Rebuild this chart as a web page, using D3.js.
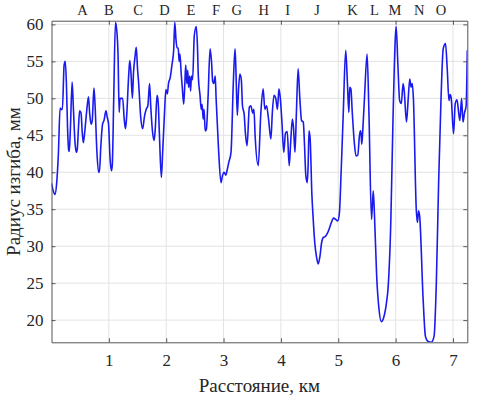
<!DOCTYPE html>
<html>
<head>
<meta charset="utf-8">
<script src="https://cdn.jsdelivr.net/npm/d3@7"></script>
<style>
    body { margin: 0; background: #fff; }
    svg text { font-family: "Liberation Serif", "Times New Roman", serif; fill: #262626; }
</style>
</head>
<body>
<div id="chart"></div>
<script>
// distance along route, km
const distanceKm = [
    0.00, 0.03, 0.06, 0.09, 0.12, 0.15, 0.17, 0.19, 0.22, 0.24, 0.26, 0.28, 0.30, 0.31, 0.33, 0.36,
    0.38, 0.41, 0.435, 0.45, 0.47, 0.49, 0.515, 0.535, 0.555, 0.58, 0.61, 0.645, 0.665, 0.69, 0.71, 0.74,
    0.76, 0.79, 0.82, 0.835, 0.86, 0.89, 0.915, 0.95, 0.97, 0.995, 1.02, 1.045, 1.06, 1.085, 1.115, 1.14,
    1.16, 1.18, 1.195, 1.24, 1.27, 1.29, 1.31, 1.345, 1.365, 1.385, 1.41, 1.43, 1.455, 1.478, 1.50, 1.52,
    1.535, 1.555, 1.59, 1.62, 1.65, 1.68, 1.71, 1.73, 1.76, 1.79, 1.81, 1.84, 1.86, 1.88, 1.915, 1.94,
    1.97, 1.995, 2.02, 2.04, 2.07, 2.10, 2.13, 2.15, 2.17, 2.19, 2.21, 2.225, 2.24, 2.26, 2.28, 2.305,
    2.325, 2.34, 2.36, 2.375, 2.39, 2.41, 2.425, 2.44, 2.46, 2.49, 2.525, 2.545, 2.56, 2.59, 2.61, 2.625,
    2.645, 2.66, 2.68, 2.70, 2.73, 2.765, 2.79, 2.81, 2.83, 2.855, 2.87, 2.91, 2.955, 2.98, 3.01, 3.04,
    3.06, 3.09, 3.13, 3.17, 3.20, 3.215, 3.24, 3.26, 3.285, 3.31, 3.33, 3.36, 3.38, 3.41, 3.45, 3.475,
    3.51, 3.53, 3.55, 3.605, 3.65, 3.69, 3.72, 3.75, 3.78, 3.826, 3.85, 3.88, 3.91, 3.94, 3.965, 3.99,
    4.02, 4.05, 4.08, 4.11, 4.145, 4.17, 4.20, 4.22, 4.245, 4.27, 4.30, 4.33, 4.36, 4.39, 4.41, 4.435,
    4.46, 4.475, 4.49, 4.51, 4.54, 4.56, 4.59, 4.62, 4.65, 4.68, 4.71, 4.74, 4.77, 4.80, 4.84, 4.87,
    4.92, 4.96, 4.99, 5.02, 5.05, 5.086, 5.13, 5.16, 5.185, 5.20, 5.22, 5.245, 5.28, 5.31, 5.34, 5.37,
    5.387, 5.40, 5.41, 5.43, 5.46, 5.503, 5.535, 5.58, 5.61, 5.63, 5.67, 5.71, 5.75, 5.79, 5.84, 5.87,
    5.916, 5.956, 5.997, 6.01, 6.04, 6.07, 6.10, 6.13, 6.15, 6.19, 6.22, 6.247, 6.27, 6.29, 6.31, 6.36,
    6.38, 6.40, 6.42, 6.48, 6.52, 6.566, 6.62, 6.67, 6.71, 6.75, 6.79, 6.83, 6.87, 6.90, 6.93, 6.95,
    6.97, 7.01, 7.04, 7.07, 7.10, 7.12, 7.15, 7.175, 7.20, 7.23, 7.25
];

// bend radius, mm
const radiusMm = [
    38.5, 37.5, 37.0, 38.5, 42.5, 48.7, 48.5, 48.5, 54.5, 55.0, 52.0, 46.0, 43.0, 42.8, 46.0, 52.2,
    49.0, 44.0, 42.7, 43.2, 46.0, 48.3, 48.0, 45.5, 44.0, 45.5, 48.0, 50.2, 48.0, 46.5, 47.0, 51.4,
    49.0, 43.0, 40.0, 40.0, 43.5, 46.5, 47.0, 48.3, 47.5, 46.5, 42.0, 40.2, 41.0, 50.0, 60.3, 59.0,
    56.0, 48.1, 50.0, 50.0, 47.0, 45.9, 47.5, 53.0, 55.1, 53.5, 50.0, 53.5, 55.5, 56.9, 54.0, 52.0,
    50.0, 47.5, 45.9, 47.5, 48.5, 49.0, 52.0, 49.0, 45.6, 44.3, 46.0, 50.4, 49.5, 45.5, 39.3, 43.0,
    48.0, 51.2, 50.6, 52.0, 52.8, 54.5, 56.5, 60.3, 58.0, 56.8, 56.8, 55.0, 56.0, 53.5, 51.5, 49.2,
    52.0, 54.5, 52.0, 53.8, 51.5, 53.0, 51.0, 53.0, 52.5, 58.5, 59.7, 57.0, 53.0, 50.4, 48.5, 49.2,
    47.2, 48.5, 45.6, 45.8, 50.2, 56.7, 55.0, 52.3, 52.0, 53.0, 50.0, 43.5, 38.6, 39.5, 40.0, 39.6,
    40.2, 41.3, 42.7, 52.0, 56.7, 54.0, 47.7, 51.0, 53.3, 52.5, 49.0, 47.8, 45.4, 43.6, 48.8, 49.0,
    48.0, 48.5, 45.0, 40.9, 48.0, 51.3, 48.5, 49.0, 47.5, 44.5, 48.0, 50.4, 50.0, 48.5, 51.3, 50.0,
    46.5, 42.7, 45.3, 45.5, 40.9, 44.0, 47.2, 46.0, 42.7, 48.0, 54.0, 50.0, 47.0, 46.8, 44.0, 39.5,
    38.6, 41.0, 45.6, 44.5, 37.0, 34.1, 30.5, 28.6, 27.6, 28.6, 30.5, 31.2, 31.3, 31.6, 32.3, 33.0,
    33.8, 33.6, 33.4, 34.5, 40.0, 47.7, 56.5, 52.0, 48.1, 51.5, 51.3, 48.0, 44.0, 42.2, 42.3, 45.0,
    45.6, 45.0, 43.8, 46.0, 50.5, 56.0, 48.0, 33.6, 37.5, 34.5, 25.9, 21.5, 19.8, 20.3, 22.3, 24.5,
    33.2, 47.7, 58.5, 59.7, 54.5, 49.7, 49.3, 52.0, 51.0, 46.8, 50.0, 52.6, 51.5, 52.0, 50.0, 35.0,
    33.2, 34.8, 34.0, 22.8, 17.8, 17.1, 17.0, 17.8, 25.0, 38.6, 49.5, 56.7, 57.4, 54.0, 49.7, 50.5,
    50.0, 45.2, 49.3, 49.8, 48.0, 47.0, 50.0, 46.8, 48.0, 49.0, 56.5
];

const xTicks = [1, 2, 3, 4, 5, 6, 7];
const yTicks = [20, 25, 30, 35, 40, 45, 50, 55, 60];

// section markers along the top
const sectionLabels = ["A", "B", "C", "D", "E", "F", "G", "H", "I", "J", "K", "L", "M", "N", "O"];
const sectionKm = [0.54, 1.0, 1.51, 1.97, 2.43, 2.87, 3.23, 3.70, 4.12, 4.63, 5.25, 5.63, 5.99, 6.41, 6.79];

const W = 482, H = 395;
const margin = { top: 20.7, right: 14.7, bottom: 52.7, left: 51.5 };
const width = W - margin.left - margin.right;
const height = H - margin.top - margin.bottom;

const svg = d3.select("#chart").append("svg")
    .attr("width", W)
    .attr("height", H);

const chart = svg.append("g")
    .attr("transform", `translate(${margin.left},${margin.top})`);

const x = d3.scaleLinear().domain([0, 7.25]).range([0, width]);
const y = d3.scaleLinear().domain([17, 60.5]).range([height, 0]);

// grid
chart.append("g")
    .selectAll("line")
    .data(xTicks)
    .join("line")
    .attr("x1", d => x(d)).attr("x2", d => x(d))
    .attr("y1", 0).attr("y2", height)
    .attr("stroke", "#e3e3e3");

chart.append("g")
    .selectAll("line")
    .data(yTicks)
    .join("line")
    .attr("x1", 0).attr("x2", width)
    .attr("y1", d => y(d)).attr("y2", d => y(d))
    .attr("stroke", "#e3e3e3");

// curve
svg.append("defs").append("clipPath")
    .attr("id", "plot-clip")
    .append("rect")
    .attr("width", width)
    .attr("height", height);

const points = distanceKm.map((d, i) => [d, radiusMm[i]]);

const line = d3.line()
    .x(d => x(d[0]))
    .y(d => y(d[1]))
    .curve(d3.curveMonotoneX);

chart.append("path")
    .attr("clip-path", "url(#plot-clip)")
    .datum(points)
    .attr("fill", "none")
    .attr("stroke", "#1a1aee")
    .attr("stroke-width", 1.6)
    .attr("stroke-linejoin", "round")
    .attr("d", line);

// axes (MATLAB style: inward ticks, box all round)
const tickLen = 4;
const styleAxis = g => {
    g.attr("font-family", "Liberation Serif").attr("font-size", 17);
    g.select(".domain").attr("stroke", "#555");
    g.selectAll(".tick line").attr("stroke", "#555");
    g.selectAll(".tick text").attr("fill", "#262626");
};

chart.append("g")
    .attr("transform", `translate(0,${height})`)
    .call(d3.axisBottom(x).tickValues(xTicks).tickSize(-tickLen).tickSizeOuter(0).tickPadding(12).tickFormat(d3.format("d")))
    .call(styleAxis);

chart.append("g")
    .call(d3.axisTop(x).tickValues(xTicks).tickSize(-tickLen).tickSizeOuter(0).tickFormat(""))
    .call(styleAxis);

chart.append("g")
    .call(d3.axisLeft(y).tickValues(yTicks).tickSize(-tickLen).tickSizeOuter(0).tickPadding(8))
    .call(styleAxis);

chart.append("g")
    .attr("transform", `translate(${width},0)`)
    .call(d3.axisRight(y).tickValues(yTicks).tickSize(-tickLen).tickSizeOuter(0).tickFormat(""))
    .call(styleAxis);

// section letters
chart.append("g")
    .selectAll("text")
    .data(sectionLabels)
    .join("text")
    .attr("x", (d, i) => x(sectionKm[i]))
    .attr("y", -6)
    .attr("text-anchor", "middle")
    .style("font-size", "14.5px")
    .text(d => d);

// axis titles
chart.append("text")
    .attr("x", width / 2)
    .attr("y", height + 49.5)
    .attr("text-anchor", "middle")
    .style("font-size", "19px")
    .text("Расстояние, км");

chart.append("text")
    .attr("transform", "rotate(-90)")
    .attr("x", -height / 2)
    .attr("y", -32)
    .attr("text-anchor", "middle")
    .style("font-size", "19px")
    .text("Радиус изгиба, мм");
</script>
</body>
</html>
